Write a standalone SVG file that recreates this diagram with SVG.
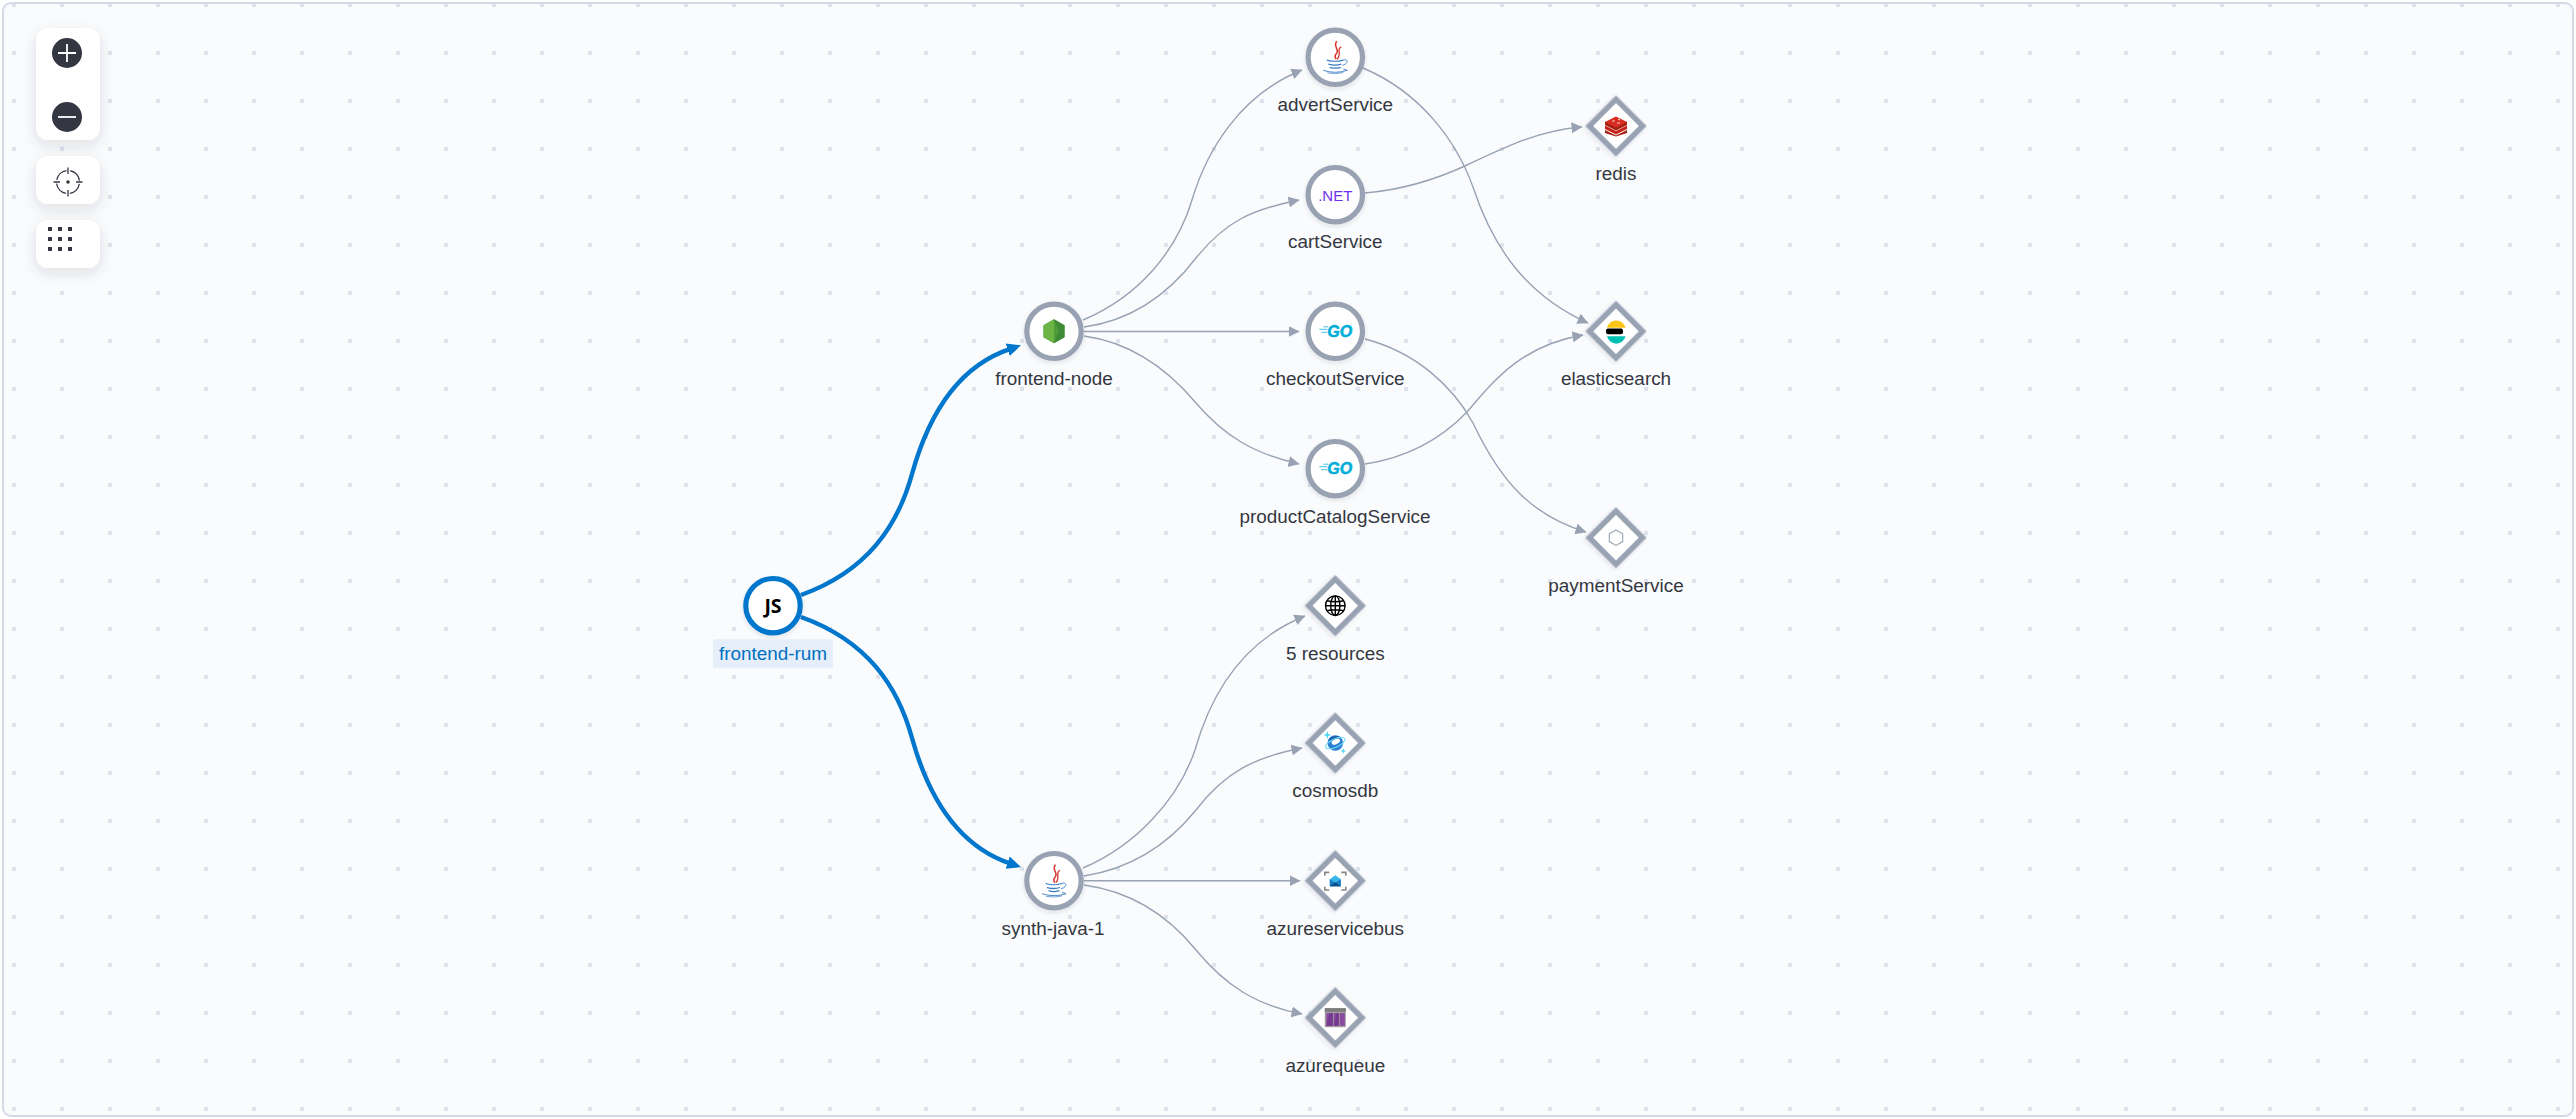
<svg xmlns="http://www.w3.org/2000/svg" width="2576" height="1119" viewBox="0 0 2576 1119">
<style>
text{font-family:"Liberation Sans",Arial,sans-serif}
.lbl{font-size:18.9px;fill:#343741;text-anchor:middle}
.ring{fill:#fff;stroke:#98a2b3;stroke-width:5.2}
.dia{fill:#fff;stroke:#98a2b3;stroke-width:5.5;stroke-linejoin:miter}
.edge{fill:none;stroke:#98a2b3;stroke-width:1.4;marker-end:url(#arrow)}
.hot{fill:none;stroke:#0077cc;stroke-width:4.4;marker-end:url(#arrowHot)}
.panel{fill:#fff;filter:url(#panelShadow)}
.ic{fill:#343741}
.go{font-size:16px;font-weight:bold;font-style:italic;fill:#00add8;stroke:#00add8;stroke-width:.5;text-anchor:middle}
</style>
<defs>
<pattern id="dots" x="0" y="0" width="48" height="48" patternUnits="userSpaceOnUse"><rect x="12" y="3" width="4" height="4" fill="#dde2ec"/></pattern>
<marker id="arrow" markerUnits="userSpaceOnUse" markerWidth="13" markerHeight="13" refX="10.5" refY="6.5" orient="auto"><path d="M0 1L11 6.5L0 12z" fill="#98a2b3"/></marker>
<marker id="arrowHot" markerUnits="userSpaceOnUse" markerWidth="16" markerHeight="16" refX="3" refY="8" orient="auto"><path d="M0 1.5L14 8L0 14.5z" fill="#0077cc"/></marker>
<filter id="panelShadow" x="-40%" y="-40%" width="180%" height="190%"><feDropShadow dx="0" dy="5" stdDeviation="7" flood-color="#343741" flood-opacity="0.13"/></filter>
<filter id="nodeShadow" x="-30%" y="-30%" width="160%" height="160%"><feDropShadow dx="0" dy="2" stdDeviation="2" flood-color="#343741" flood-opacity="0.12"/></filter>
<symbol id="java" overflow="visible" viewBox="-20 -20 40 40" width="40" height="40">
<g fill="none">
<path d="M1.500-16C-3-11 5-7.500 1-3.500C-.8-1.500-.3.500 1 2" stroke="#d8332e" stroke-width="1.500"/>
<path d="M6-10.500C1.500-8 5-5 3.700-1.800C3.200-.5 3 .8 2 2" stroke="#d8332e" stroke-width="1.300"/>
<g stroke="#3a7cc4">
<path d="M-8.500 2.800Q0 5.200 8 2.800" stroke-width="1.100"/>
<path d="M8 2.500C13 1.500 13.500 6.500 7 8" stroke-width=".9"/>
<path d="M-7 6.800Q0 8.800 6 6.800" stroke-width="1.300"/>
<path d="M-5.500 10Q0 11.800 5.500 10" stroke-width="1.300"/>
<path d="M-12 13Q0 17 12 13Q10 12 8 11.800" stroke-width=".9"/>
<path d="M-8 15.600Q0 17.400 8 15.200" stroke-width=".7"/>
</g>
</g>
</symbol>
<symbol id="golang" overflow="visible" viewBox="-20 -20 40 40" width="40" height="40">
<g stroke="#00add8" stroke-width="1"><path d="M-16-2H-8M-14 1H-8M-12-4.500H-7" opacity=".75"/></g>
<text class="go" x="4.500" y="5.600">GO</text>
</symbol>
</defs>

<rect width="2576" height="1119" fill="#fff"/>
<rect id="canvas" x="3" y="3" width="2570" height="1113" rx="8" fill="#fafbfd" stroke="#d3dae6" stroke-width="2"/>
<rect x="4" y="4" width="2568" height="1111" rx="7" fill="url(#dots)"/>

<g id="connectors">
<path class="edge" d="M1083 320C1140 296 1177 250 1192 200C1207 150 1240 95 1302 70"/>
<path class="edge" d="M1084 327C1135 320 1170 292 1196 258C1225 222 1250 210 1299 200"/>
<path class="edge" d="M1084 331.500H1299"/>
<path class="edge" d="M1084 336C1135 343 1170 372 1196 403C1225 437 1255 454 1299 464"/>
<path class="edge" d="M1363 68C1420 92 1456 140 1473 187C1492 245 1525 295 1588 323"/>
<path class="edge" d="M1365 193C1400 190 1435 180 1467 165C1505 147 1540 130 1582 127"/>
<path class="edge" d="M1365 339C1415 352 1452 385 1473 423C1500 480 1530 515 1586 532"/>
<path class="edge" d="M1365 464C1405 458 1440 440 1467 412C1498 375 1525 345 1583 335"/>
<path class="edge" d="M1083 868C1135 846 1178 800 1195 750C1212 690 1245 640 1305 616"/>
<path class="edge" d="M1084 876C1135 868 1170 842 1196 810C1225 772 1255 757 1302 748"/>
<path class="edge" d="M1084 880.700H1300"/>
<path class="edge" d="M1084 885C1135 892 1170 918 1196 950C1225 985 1255 1005 1302 1014"/>
<path class="hot" d="M801 595C868 571 898 525 912 474C927 420 955 367 1010.500 348.800"/>
<path class="hot" d="M801 617C868 641 898 687 912 738C927 792 955 845 1010.500 863.600"/>
</g>

<g id="node-frontend-rum">
<circle cx="773" cy="605.700" r="27.200" fill="#fff" stroke="#0077cc" stroke-width="5.200" filter="url(#nodeShadow)"/>
<text x="773" y="612.500" font-size="19.500" font-weight="bold" text-anchor="middle" fill="#000" style="font-family:'Open Sans',sans-serif">JS</text>
<rect x="713" y="639.300" width="120" height="29" rx="2.500" fill="#e6eefa"/>
<text class="lbl" x="773" y="660" style="fill:#0071c2">frontend-rum</text>
</g>

<g id="node-frontend-node">
<circle class="ring" cx="1054" cy="331.300" r="27.200" filter="url(#nodeShadow)"/>
<path d="M1054 319.300L1064.500 325.300V337.300L1054 343.300L1043.500 337.300V325.300z" fill="#4d9c3a"/>
<path d="M1054 319.300L1043.500 325.300V337.300L1054 343.300z" fill="#6cb544"/>
<path d="M1054 319.300L1064.500 325.300V337.300L1054 343.300L1059 331z" fill="#3f8a34"/>
<text class="lbl" x="1054" y="385">frontend-node</text>
</g>

<g id="node-synth-java-1">
<circle class="ring" cx="1054" cy="880.700" r="27.200" filter="url(#nodeShadow)"/>
<use href="#java" x="1034" y="860.700"/>
<text class="lbl" x="1053" y="934.500">synth-java-1</text>
</g>

<g id="node-advertService">
<circle class="ring" cx="1335.300" cy="57.300" r="27.200" filter="url(#nodeShadow)"/>
<use href="#java" x="1315.300" y="37.300"/>
<text class="lbl" x="1335.300" y="110.700">advertService</text>
</g>

<g id="node-cartService">
<circle class="ring" cx="1335.300" cy="194.700" r="27.200" filter="url(#nodeShadow)"/>
<text x="1335.300" y="200.700" font-size="15" text-anchor="middle" fill="#7030ee">.NET</text>
<text class="lbl" x="1335.300" y="248.300">cartService</text>
</g>

<g id="node-checkoutService">
<circle class="ring" cx="1335.300" cy="331.300" r="27.200" filter="url(#nodeShadow)"/>
<use href="#golang" x="1315.300" y="311.300"/>
<text class="lbl" x="1335.300" y="385">checkoutService</text>
</g>

<g id="node-productCatalogService">
<circle class="ring" cx="1335.300" cy="468.700" r="27.200" filter="url(#nodeShadow)"/>
<use href="#golang" x="1315.300" y="448.700"/>
<text class="lbl" x="1335" y="522.500">productCatalogService</text>
</g>

<g id="node-redis">
<rect class="dia" x="-18.850" y="-18.850" width="37.700" height="37.700" transform="translate(1616 126) rotate(45)" filter="url(#nodeShadow)"/>
<g transform="translate(1616 126)">
<path d="M-11 4L0 9.500L11 4V7L0 10.500L-11 7z" fill="#a41e11"/>
<path d="M-11-.5L0 5L11-.5V3L0 8.500L-11 3z" fill="#c6251a"/>
<path d="M-11-4.500L0 1L11-4.500V-1L0 4.500L-11-1z" fill="#a41e11"/>
<path d="M-11-4L0-9.500L11-4L0 1.500z" fill="#d82c20"/>
<path d="M-4-5H-1M2-7L4-6M1-3H4" stroke="#f5c9c4" stroke-width="1.200"/>
</g>
<text class="lbl" x="1616" y="180">redis</text>
</g>

<g id="node-elasticsearch">
<rect class="dia" x="-18.850" y="-18.850" width="37.700" height="37.700" transform="translate(1616 331.300) rotate(45)" filter="url(#nodeShadow)"/>
<g transform="translate(1616 331.300)">
<path d="M-9-3.500A9.500 9.500 0 0 1 9.500-3.500z" fill="#fec514"/>
<rect x="-10" y="-2.700" width="17" height="5.700" rx="2" fill="#000"/>
<path d="M-9 5H9.500A9.500 9.500 0 0 1 -9 5z" fill="#00bfb3"/>
</g>
<text class="lbl" x="1616" y="385">elasticsearch</text>
</g>

<g id="node-paymentService">
<rect class="dia" x="-18.850" y="-18.850" width="37.700" height="37.700" transform="translate(1616 537.700) rotate(45)" filter="url(#nodeShadow)"/>
<path d="M1616 530L1622.700 533.800V541.600L1616 545.400L1609.300 541.600V533.800z" fill="none" stroke="#98a2b3" stroke-width="1.100"/>
<text class="lbl" x="1616" y="591.500">paymentService</text>
</g>

<g id="node-5-resources">
<rect class="dia" x="-18.850" y="-18.850" width="37.700" height="37.700" transform="translate(1335.300 605.700) rotate(45)" filter="url(#nodeShadow)"/>
<g transform="translate(1335.300 605.700)" fill="none" stroke="#000" stroke-width="1.400">
<circle r="9.800"/>
<ellipse rx="4.600" ry="9.800"/>
<path d="M0-9.800V9.800M-9.800 0H9.800M-8.400-5Q0-3 8.400-5M-8.400 5Q0 3 8.400 5"/>
</g>
<text class="lbl" x="1335.300" y="659.500">5 resources</text>
</g>

<g id="node-cosmosdb">
<rect class="dia" x="-18.850" y="-18.850" width="37.700" height="37.700" transform="translate(1335.300 743) rotate(45)" filter="url(#nodeShadow)"/>
<g transform="translate(1335.300 743)">
<circle r="7.800" fill="#2a80d2"/>
<path d="M-7-3C-4-7 2-8 5-6C2-4-2-2-7-3z" fill="#1b5fa8"/>
<ellipse cx="1" cy="-1" rx="4.500" ry="2.500" fill="#fff" transform="rotate(-25)"/>
<ellipse rx="10.500" ry="4.200" fill="none" stroke="#70dcf5" stroke-width="1" transform="rotate(-25)"/>
<path d="M-8-12L-7-9L-4-8L-7-7L-8-4L-9-7L-12-8L-9-9zM8 5L8.800 7.200L11 8L8.800 8.800L8 11L7.200 8.800L5 8L7.200 7.200z" fill="#50d4f5"/>
</g>
<text class="lbl" x="1335.300" y="796.800">cosmosdb</text>
</g>

<g id="node-azureservicebus">
<rect class="dia" x="-18.850" y="-18.850" width="37.700" height="37.700" transform="translate(1335.300 880.700) rotate(45)" filter="url(#nodeShadow)"/>
<g transform="translate(1335.300 880.700)">
<path d="M-6-8.300H-10.500V-5M6-8.300H10.500V-5M-6 9.300H-10.500V6M6 9.300H10.500V6" fill="none" stroke="#858585" stroke-width="1.600"/>
<path d="M-5.500-1.500L0-5.500L5.500-1.500V5.500H-5.500z" fill="#38b6e8"/>
<path d="M-5.500-1.500L0 2L5.500-1.500V5.500H-5.500z" fill="#1a7ac2"/>
<path d="M-5.500 5.500L0 1.500L5.500 5.500z" fill="#0a4d8c"/>
</g>
<text class="lbl" x="1335.300" y="934.500">azureservicebus</text>
</g>

<g id="node-azurequeue">
<rect class="dia" x="-18.850" y="-18.850" width="37.700" height="37.700" transform="translate(1335.300 1017.700) rotate(45)" filter="url(#nodeShadow)"/>
<g transform="translate(1335.300 1017.700)">
<rect x="-10.500" y="-9.500" width="21" height="19" fill="#a19ba0"/>
<rect x="-10.500" y="-9.500" width="21" height="3.500" fill="#7c7c7c"/>
<path d="M-9-4.500H-2.500V8H-9zM-1.500-4.500H3.500V8H-1.500zM4.500-4.500H9.500V8H4.500z" fill="#8a4a9e"/>
<path d="M-9 8L-6-4.500H-2.500V8zM-1.500 8L1-4.500H3.500V8z" fill="#773a90"/>
</g>
<text class="lbl" x="1335.300" y="1071.500">azurequeue</text>
</g>

<g id="controls">
<rect class="panel" x="36" y="28" width="64" height="112" rx="12"/>
<rect class="panel" x="36" y="156" width="64" height="48" rx="12"/>
<rect class="panel" x="36" y="220" width="64" height="48" rx="12"/>
<circle class="ic" cx="67" cy="53" r="15"/>
<path d="M58 53H76M67 44V62" stroke="#fff" stroke-width="1.800"/>
<circle class="ic" cx="67" cy="117" r="15"/>
<path d="M58 117H76" stroke="#fff" stroke-width="1.800"/>
<g fill="none" stroke="#343741" stroke-width="1.300">
<circle cx="68" cy="182" r="11.500" stroke-dasharray="14.100 4" stroke-dashoffset="-2"/>
<path d="M68 167.500V174M68 190V196.500M53.500 182H60M76 182H82.500"/>
</g>
<circle class="ic" cx="68" cy="182" r="1.800"/>
<g class="ic">
<rect x="48" y="227" width="4" height="4"/><rect x="58" y="227" width="4" height="4"/><rect x="68" y="227" width="4" height="4"/>
<rect x="48" y="237" width="4" height="4"/><rect x="58" y="237" width="4" height="4"/><rect x="68" y="237" width="4" height="4"/>
<rect x="48" y="247" width="4" height="4"/><rect x="58" y="247" width="4" height="4"/><rect x="68" y="247" width="4" height="4"/>
</g>
</g>
</svg>
